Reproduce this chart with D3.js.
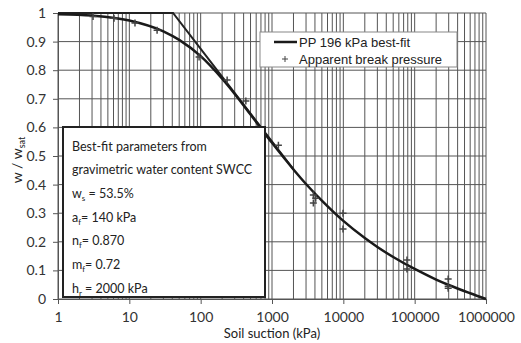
<!DOCTYPE html>
<html>
<head>
<meta charset="utf-8">
<script src="https://cdn.jsdelivr.net/npm/d3@7"></script>
<style>
  body { margin: 0; background: #fff; }
  svg { display: block; }
</style>
</head>
<body>
<svg id="chart" width="521" height="343"></svg>
<script>
// best-fit curve
const curveSuction = [1, 3, 10, 30, 50, 100, 200, 300, 500, 1000, 2000, 3000, 5000, 10000, 20000, 30000, 50000, 100000, 200000, 300000, 600000, 1000000];
const curveRatio = [0.996, 0.991, 0.974, 0.936, 0.906, 0.849, 0.770, 0.717, 0.645, 0.546, 0.453, 0.402, 0.344, 0.273, 0.213, 0.182, 0.147, 0.105, 0.068, 0.049, 0.020, 0];

// apparent break pressure points
const breakSuction = [3.1, 6.1, 12, 24.5, 95, 235, 430, 1230, 3800, 3800, 4100, 9900, 9900, 78000, 78000, 295000, 295000, 295000];
const breakRatio = [0.988, 0.982, 0.965, 0.94, 0.846, 0.766, 0.692, 0.538, 0.364, 0.336, 0.352, 0.30, 0.245, 0.136, 0.105, 0.07, 0.045, 0.038];

// construction lines (horizontal + tangent)
const tangentSuction = [1, 41, 2000];
const tangentRatio = [1, 1, 0.453];

const xTicks = [1, 10, 100, 1000, 10000, 100000, 1000000];
const yTicks = [0, 0.1, 0.2, 0.3, 0.4, 0.5, 0.6, 0.7, 0.8, 0.9, 1];

// text, subscript, rest
const paramLines = [
    ["Best-fit parameters from", "", ""],
    ["gravimetric water content SWCC", "", ""],
    ["w", "s", " = 53.5%"],
    ["a", "f", "= 140 kPa"],
    ["n", "f", "= 0.870"],
    ["m", "f", "= 0.72"],
    ["h", "r", " = 2000 kPa"]
];

const svg = d3.select("#chart");
const plotLeft = 58, plotRight = 486, plotTop = 13, plotBottom = 299;

const x = d3.scaleLog().domain([1, 1000000]).range([plotLeft, plotRight]);
const y = d3.scaleLinear().domain([0, 1]).range([plotBottom, plotTop]);

// grid
const gridX = [];
for (let d = 0; d < 6; d++) {
    for (let k = 1; k < 10; k++) gridX.push(k * Math.pow(10, d));
}
gridX.push(1000000);

svg.append("g")
    .selectAll("line")
    .data(gridX)
    .enter()
    .append("line")
    .attr("x1", d => x(d)).attr("x2", d => x(d))
    .attr("y1", plotTop).attr("y2", plotBottom)
    .style("stroke", "#555")
    .style("stroke-width", 1);

svg.append("g")
    .selectAll("line")
    .data(yTicks)
    .enter()
    .append("line")
    .attr("x1", plotLeft).attr("x2", plotRight)
    .attr("y1", d => y(d)).attr("y2", d => y(d))
    .style("stroke", "#555")
    .style("stroke-width", 1);

// axes
const xAxis = svg.append("g")
    .attr("transform", `translate(0,${plotBottom})`)
    .call(d3.axisBottom(x).tickValues(xTicks).tickFormat(d3.format("d")).tickSizeOuter(0).tickSize(5));
const yAxis = svg.append("g")
    .attr("transform", `translate(${plotLeft},0)`)
    .call(d3.axisLeft(y).tickValues(yTicks).tickFormat(d => d === 0 || d === 1 ? d : d.toFixed(1))
        .tickSizeOuter(0).tickSize(5).tickPadding(7));

[xAxis, yAxis].forEach(a => {
    a.select(".domain").style("stroke", "#555").style("stroke-width", 1);
    a.selectAll(".tick line").style("stroke", "#555");
    a.selectAll("text")
        .style("font-family", "Lato, 'Open Sans', sans-serif")
        .style("font-size", "14px")
        .style("fill", "#333");
});
xAxis.selectAll("text").attr("dy", "1.05em");

// construction lines
const line = d3.line()
    .x(d => x(d[0]))
    .y(d => y(d[1]));

svg.append("path")
    .datum(tangentSuction.map((s, i) => [s, tangentRatio[i]]))
    .attr("d", line)
    .style("fill", "none")
    .style("stroke", "#222")
    .style("stroke-width", 2);

// best-fit curve
svg.append("path")
    .datum(curveSuction.map((s, i) => [s, curveRatio[i]]))
    .attr("d", line.curve(d3.curveMonotoneX))
    .style("fill", "none")
    .style("stroke", "#1a1a1a")
    .style("stroke-width", 2.5);

// break pressure markers
svg.append("g")
    .selectAll("path")
    .data(breakSuction.map((s, i) => [s, breakRatio[i]]))
    .enter()
    .append("path")
    .attr("transform", d => `translate(${x(d[0])},${y(d[1])})`)
    .attr("d", "M-3.5,0H3.5M0,-3.5V3.5")
    .style("stroke", "#444")
    .style("stroke-width", 1.5);

// legend
const legend = svg.append("g");
legend.append("rect")
    .attr("x", 260).attr("y", 32)
    .attr("width", 197).attr("height", 35)
    .style("fill", "#fff")
    .style("stroke", "#888")
    .style("stroke-width", 1);
legend.append("line")
    .attr("x1", 274).attr("x2", 297)
    .attr("y1", 42).attr("y2", 42)
    .style("stroke", "#1a1a1a")
    .style("stroke-width", 2.5);
legend.append("path")
    .attr("transform", "translate(285,59)")
    .attr("d", "M-3,0H3M0,-3V3")
    .style("stroke", "#444")
    .style("stroke-width", 1);
legend.selectAll("text")
    .data(["PP 196 kPa best-fit", "Apparent break pressure"])
    .enter()
    .append("text")
    .attr("x", 299)
    .attr("y", (d, i) => 47 + i * 17)
    .style("font-family", "'Liberation Sans', Arial, sans-serif")
    .style("font-size", "13px")
    .style("fill", "#222")
    .text(d => d);

// parameter box
svg.append("rect")
    .attr("x", 63).attr("y", 127)
    .attr("width", 202).attr("height", 170)
    .style("fill", "#fff")
    .style("stroke", "#222")
    .style("stroke-width", 2);

const paramText = svg.append("g")
    .style("font-family", "Lato, 'Open Sans', sans-serif")
    .style("font-size", "12.5px")
    .style("fill", "#222");
paramLines.forEach((p, i) => {
    const t = paramText.append("text")
        .attr("x", 72)
        .attr("y", 150.5 + i * 23.7);
    t.append("tspan").text(p[0]);
    if (p[1]) {
        t.append("tspan").attr("dy", 3).style("font-size", "8px").text(p[1]);
        t.append("tspan").attr("dy", -3).text(p[2]);
    }
});

// axis titles
svg.append("text")
    .attr("x", 272).attr("y", 338)
    .attr("text-anchor", "middle")
    .style("font-family", "Lato, 'Open Sans', sans-serif")
    .style("font-size", "13px")
    .style("fill", "#222")
    .text("Soil suction (kPa)");

const yTitle = svg.append("text")
    .attr("transform", "translate(22,160) rotate(-90)")
    .attr("text-anchor", "middle")
    .style("font-family", "Lato, 'Open Sans', sans-serif")
    .style("font-size", "14px")
    .style("fill", "#222");
yTitle.append("tspan").text("w / w");
yTitle.append("tspan").attr("dy", 3).style("font-size", "9px").text("sat");
</script>
</body>
</html>
